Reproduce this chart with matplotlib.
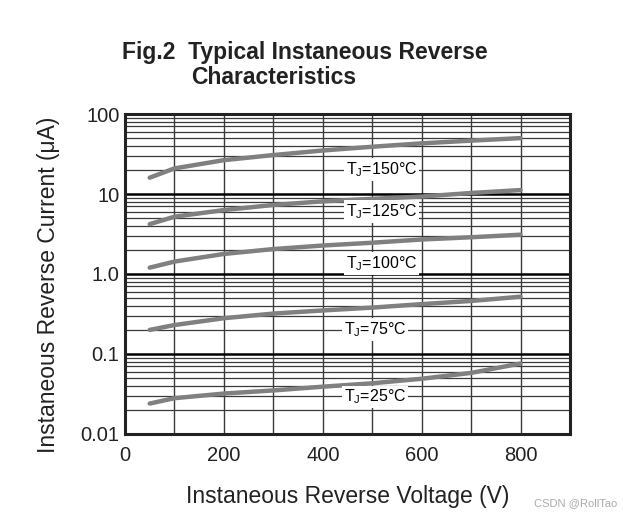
import numpy as np
import matplotlib.pyplot as plt
from matplotlib.ticker import FixedLocator, NullFormatter

plt.rcParams['font.family'] = ['Liberation Sans', 'DejaVu Sans']

# reverse voltage (V)
volts = [50, 100, 200, 300, 400, 500, 600, 700, 800]
# reverse current (uA) per junction temperature
i_150 = [16.0, 20.9, 26.5, 30.7, 35.0, 39.0, 43.0, 46.5, 50.0]
i_125 = [4.2, 5.2, 6.3, 7.3, 8.1, 8.7, 9.3, 10.3, 11.2]
i_100 = [1.2, 1.43, 1.78, 2.05, 2.27, 2.46, 2.7, 2.88, 3.1]
i_75 = [0.2, 0.23, 0.28, 0.32, 0.35, 0.38, 0.42, 0.46, 0.52]
i_25 = [0.024, 0.028, 0.032, 0.035, 0.039, 0.043, 0.049, 0.058, 0.076]

labels = ['150', '125', '100', '75', '25']
label_y = [20.3, 6.0, 1.36, 0.2, 0.029]
label_x = [519, 519, 519, 506, 506]

fig = plt.figure(figsize=(6.23, 5.16), dpi=100)
ax = fig.add_axes([0.2006, 0.159, 0.7143, 0.62])

ax.set_yscale('log')
ax.set_xlim(0, 900)
ax.set_ylim(0.01, 100)

# grid
for v in range(100, 900, 100):
    ax.axvline(v, color='#3a3a3a', lw=1.0, zorder=1)
for dec in [0.01, 0.1, 1, 10]:
    for m in range(2, 10):
        ax.axhline(dec * m, color='#3a3a3a', lw=0.9, zorder=1)
for dec in [0.1, 1, 10]:
    ax.axhline(dec, color='black', lw=1.8, zorder=1)

for cur in [i_150, i_125, i_100, i_75, i_25]:
    ax.plot(volts, cur, color='#808080', lw=3.2, solid_capstyle='round', zorder=3)

for t, lx, ly in zip(labels, label_x, label_y):
    ax.text(lx, ly, r'T$_\mathregular{J}$=' + t + '°C', fontsize=11.5, ha='center', va='center',
            zorder=4, bbox=dict(facecolor='white', edgecolor='none', pad=1.5))

ax.xaxis.set_major_locator(FixedLocator([0, 200, 400, 600, 800]))
ax.set_yticks([0.01, 0.1, 1, 10, 100])
ax.set_yticklabels(['0.01', '0.1', '1.0', '10', '100'])
ax.yaxis.set_minor_formatter(NullFormatter())
ax.tick_params(which='both', length=0, labelsize=14.5, colors='#222222')
ax.tick_params(axis='y', pad=4)
ax.tick_params(axis='x', pad=9)

for s in ax.spines.values():
    s.set_linewidth(2.2)
    s.set_color('#222222')

ax.set_xlabel('Instaneous Reverse Voltage (V)', fontsize=16.5, labelpad=14, color='#222222')
ax.set_ylabel('Instaneous Reverse Current (μA)', fontsize=16.5, color='#222222')
ax.yaxis.set_label_coords(-0.145, 0.466)

fig.text(122 / 623, 1 - 53 / 516, 'Fig.2  Typical Instaneous Reverse',
         fontsize=16.5, fontweight='bold', ha='left', va='center', color='#222222')
fig.text(191 / 623, 1 - 78 / 516, 'Characteristics',
         fontsize=16.5, fontweight='bold', ha='left', va='center', color='#222222')
fig.text(0.99, 0.015, 'CSDN @RollTao', fontsize=8, color='#aaaaaa', ha='right', va='bottom')

fig.savefig('out.png', dpi=100)
